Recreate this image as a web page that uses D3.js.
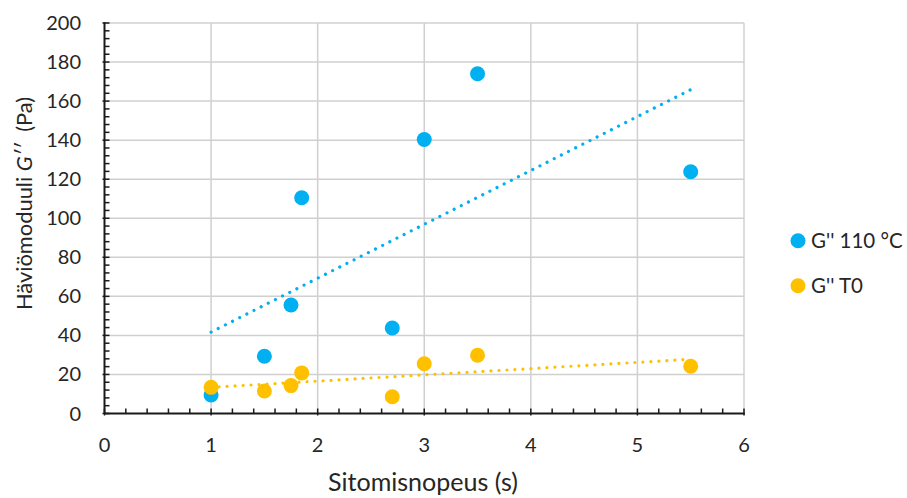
<!DOCTYPE html>
<html><head><meta charset="utf-8">
<script src="https://cdn.jsdelivr.net/npm/d3@7"></script>
<style>body{margin:0;background:#fff}svg{display:block;font-family:Lato,"Open Sans",sans-serif}</style>
</head><body>
<svg id="c" width="907" height="498"></svg>
<script>
const xValues = [1, 1.5, 1.75, 1.85, 2.7, 3, 3.5, 5.5];
const g110 = [9.5, 29.3, 55.6, 110.5, 43.8, 140.3, 174, 123.8];
const gT0 = [13.4, 11.5, 14.3, 20.8, 8.6, 25.5, 29.8, 24.2];
const seriesNames = ["G'' 110 °C", "G'' T0"];
const seriesColors = ["#00B0F0", "#FFC000"];
const xTicks = [0, 1, 2, 3, 4, 5, 6];
const yTicks = [0, 20, 40, 60, 80, 100, 120, 140, 160, 180, 200];

const svg = d3.select("#c");
const L = 104.5, R = 744, T = 23, B = 413.5;
const x = d3.scaleLinear().domain([0, 6]).range([L, R]);
const y = d3.scaleLinear().domain([0, 200]).range([B, T]);

// gridlines
const grid = svg.append("g").attr("stroke", "#d0d0d0").attr("stroke-width", 1.5);
xTicks.filter(d => d > 0).forEach(d => grid.append("line").attr("x1", x(d)).attr("x2", x(d)).attr("y1", T).attr("y2", B));
yTicks.filter(d => d > 0).forEach(d => grid.append("line").attr("x1", L).attr("x2", R).attr("y1", y(d)).attr("y2", y(d)));

// axes
const ax = svg.append("g").attr("stroke", "#1a1a1a");
ax.append("line").attr("x1", L).attr("x2", R + 0.75).attr("y1", B).attr("y2", B).attr("stroke-width", 2);
ax.append("line").attr("x1", L).attr("x2", L).attr("y1", T - 0.75).attr("y2", B).attr("stroke-width", 2);
d3.range(0, 6.001, 0.2).forEach(v => {
  const major = Math.abs(v - Math.round(v)) < 1e-6;
  ax.append("line").attr("x1", x(v)).attr("x2", x(v)).attr("y1", B - 5).attr("y2", B + (major ? 2 : 0)).attr("stroke-width", 1.5);
});
d3.range(0, 200.001, 4).forEach(v => {
  const major = Math.abs(v / 20 - Math.round(v / 20)) < 1e-6;
  ax.append("line").attr("x1", L - (major ? 2 : 0)).attr("x2", L + 5).attr("y1", y(v)).attr("y2", y(v)).attr("stroke-width", 1.5);
});

// tick labels
const tl = svg.append("g").attr("fill", "#262626").attr("font-size", 20);
xTicks.forEach(d => tl.append("text").attr("x", x(d)).attr("y", 451.5).attr("text-anchor", "middle").text(d));
yTicks.forEach(d => tl.append("text").attr("x", 81).attr("y", y(d) + 7).attr("text-anchor", "end").text(d));

function fitWidth(sel, target) {
  let fs = 21;
  for (let i = 0; i < 4; i++) {
    sel.attr("font-size", fs);
    const w = sel.node().getComputedTextLength();
    if (w > 0) fs = fs * target / w;
  }
  sel.attr("font-size", Math.min(Math.max(fs, 18), 26));
}

// axis titles
const xt = svg.append("text").attr("x", 423).attr("y", 490.5).attr("text-anchor", "middle").attr("fill", "#262626").text("Sitomisnopeus (s)");
fitWidth(xt, 190);
const yt = svg.append("text").attr("transform", "translate(31.5,203.5) rotate(-90)").attr("text-anchor", "middle").attr("fill", "#262626");
yt.append("tspan").text("Häviömoduuli ");
yt.append("tspan").attr("font-style", "italic").text("G′′");
yt.append("tspan").attr("xml:space", "preserve").style("white-space", "pre").text("  (Pa)");
fitWidth(yt, 213);

// trendlines
function fit(xs, ys) {
  const mx = d3.mean(xs), my = d3.mean(ys);
  const sxy = d3.sum(xs, (v, i) => (v - mx) * (ys[i] - my));
  const sxx = d3.sum(xs, v => (v - mx) * (v - mx));
  const b = sxy / sxx, a = my - b * mx;
  return v => a + b * v;
}
const series = [g110, gT0];
const xmin = d3.min(xValues), xmax = d3.max(xValues);
series.forEach((ys, k) => {
  const f = fit(xValues, ys);
  svg.append("line").attr("x1", x(xmin)).attr("y1", y(f(xmin))).attr("x2", x(xmax)).attr("y2", y(f(xmax)))
    .attr("stroke", seriesColors[k]).attr("stroke-width", 3.2).attr("stroke-linecap", "round").attr("stroke-dasharray", "0.01 8");
});

// points
series.forEach((ys, k) => {
  svg.append("g").selectAll("circle").data(xValues).join("circle")
    .attr("cx", d => x(d)).attr("cy", (d, i) => y(ys[i])).attr("r", 7.5).attr("fill", seriesColors[k]);
});

// legend
seriesNames.forEach((n, k) => {
  const cy = 240.7 + k * 45;
  svg.append("circle").attr("cx", 798).attr("cy", cy).attr("r", 7.5).attr("fill", seriesColors[k]);
  svg.append("text").attr("x", 811).attr("y", cy + 7.5).attr("font-size", 20.5).attr("fill", "#262626").text(n);
});
</script>
</body></html>
